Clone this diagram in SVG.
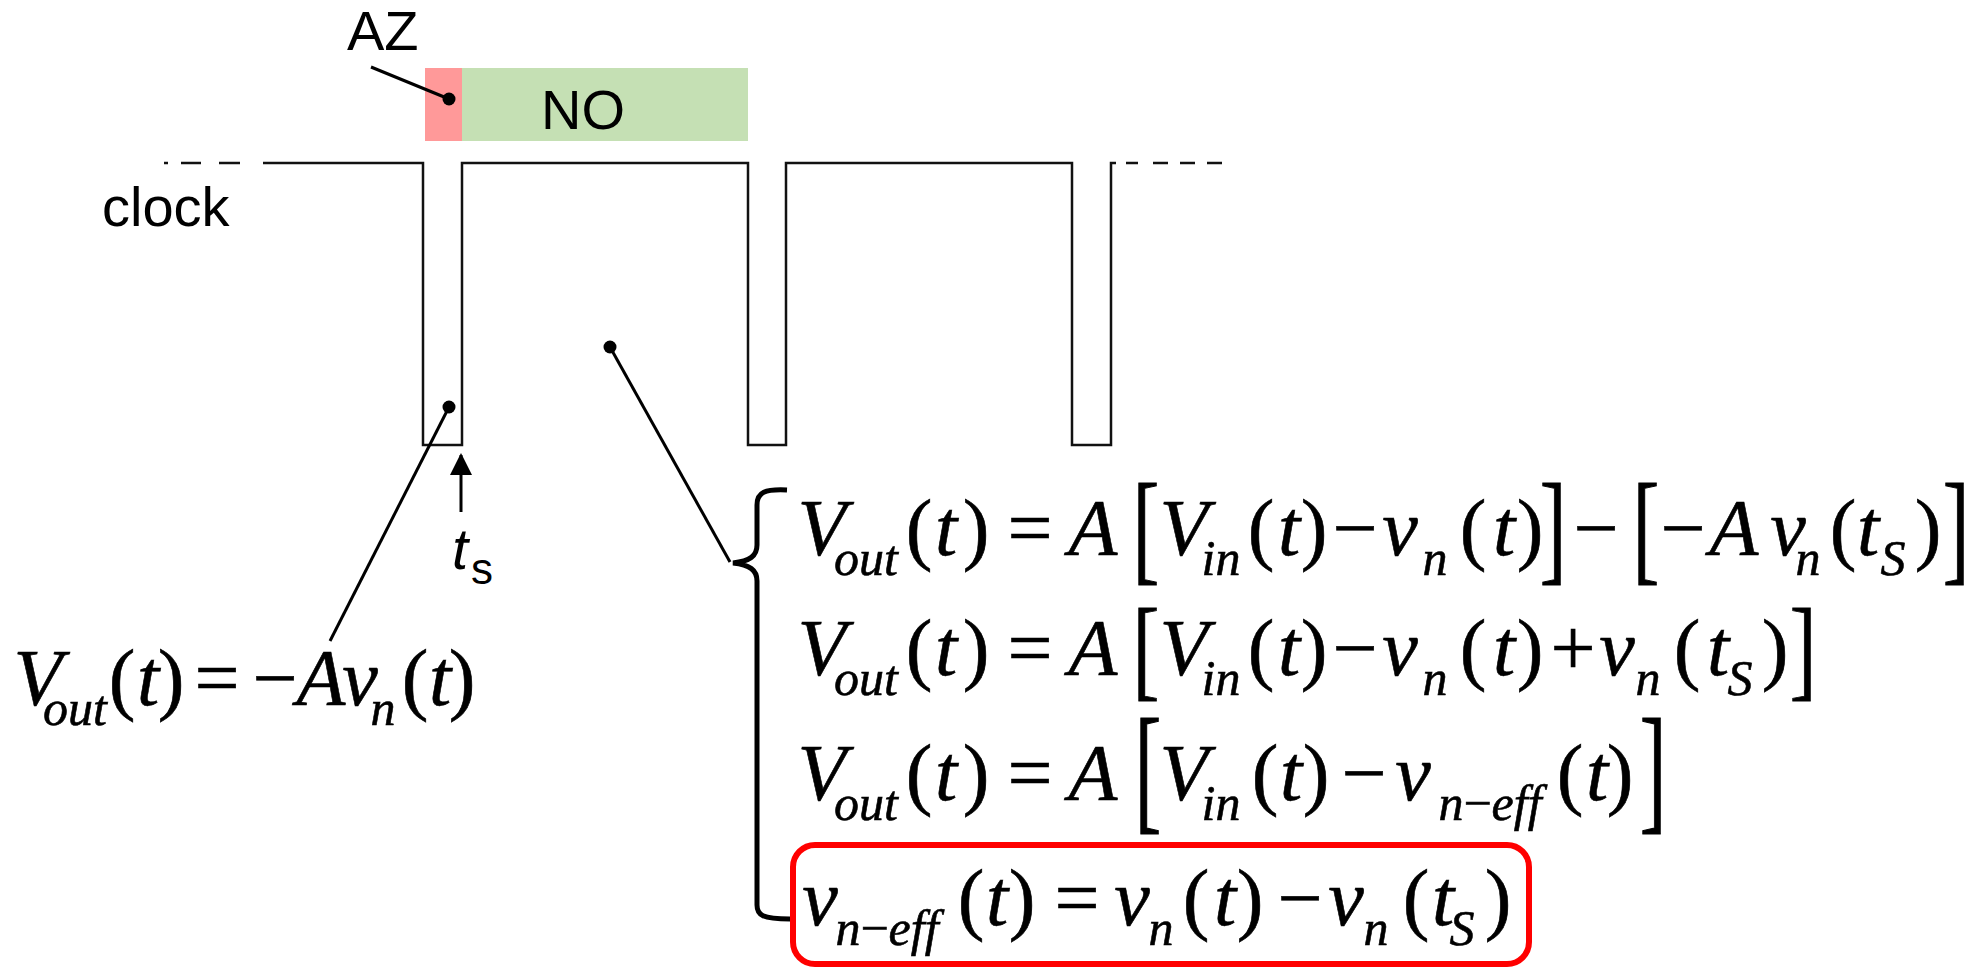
<svg xmlns="http://www.w3.org/2000/svg" width="1986" height="968" viewBox="0 0 1986 968">
<style>
.sans{font-family:"Liberation Sans",Arial,sans-serif;fill:#000}
.m{font-family:"Liberation Serif","Times New Roman",serif;font-size:80px;font-style:italic;text-anchor:middle;fill:#000;font-variant-ligatures:none;stroke:#000;stroke-width:0.6}
.u{font-style:normal}
.s{font-size:50px}
.wave{fill:none;stroke:#111;stroke-width:2.5}
.lead{fill:none;stroke:#000;stroke-width:3}
.dot{fill:#000}
</style>
<defs>
<marker id="ah" viewBox="0 0 22 22" refX="20" refY="11" markerWidth="22" markerHeight="22" markerUnits="userSpaceOnUse" orient="auto">
<path d="M0,0 L22,11 L0,22 Z" fill="#000"/>
</marker>
</defs>
<rect width="1986" height="968" fill="#fff"/>

<g id="phase-bar">
<rect x="425" y="68" width="37" height="73" fill="#FF9999"/>
<rect x="462" y="68" width="286" height="73" fill="#C5E0B4"/>
<text class="sans" x="583" y="129" font-size="56" text-anchor="middle">NO</text>
</g>

<g id="az-label">
<text class="sans" x="347" y="50" font-size="56">AZ</text>
</g>

<g id="clock">
<path class="wave" d="M263,163 H423 V445 H462 V163 H748 V445 H786 V163 H1072 V445 H1111 V163 H1116"/>
<path class="wave" d="M164,163 H168 M181,163 H201 M219,163 H240 M1126,163 H1138 M1153,163 H1168 M1180,163 H1195 M1207,163 H1222"/>
</g>

<g id="clock-label">
<text class="sans" x="102" y="226" font-size="56">clock</text>
</g>

<g id="ts-label">
<text class="sans" x="452" y="569" font-size="58" font-style="italic">t<tspan font-size="44" font-style="normal" x="471" y="584">s</tspan></text>
</g>

<g id="eq-left">
<text class="m" y="705" x="38 148 321 360 440">VtAvt</text>
<text class="m u" y="705" x="122 171 217 275 415 462">()=−()</text>
<text class="m s" y="725" x="75">out</text>
<text class="m s" y="725" x="383">n</text>
</g>

<g id="eq-system">
<path d="M787,490 C765,489 757,492 757,505 L757,545 C757,556 750,561 733,563 C750,565 757,570 757,581 L757,905 C757,915 762,919 790,919" fill="none" stroke="#000" stroke-width="5"/>

<g id="eq1">
<text class="m" y="555" x="822 946 1093 1184 1289 1400 1504 1734 1788 1868">VtAVtvtAvt</text>
<text class="m u" y="555" x="919 976 1030 1261 1314 1355 1473 1530 1596 1683 1843 1928">()=()−()−−()</text>
<text class="m s" y="575" x="866">out</text>
<text class="m s" y="575" x="1221">in</text>
<text class="m s" y="575" x="1435">n</text>
<text class="m s" y="575" x="1808">n</text>
<text class="m s" y="575" x="1893">S</text>
<text class="m u" transform="translate(1146,569) scale(1,1.53)">[</text>
<text class="m u" transform="translate(1553,569) scale(1,1.53)">]</text>
<text class="m u" transform="translate(1646,569) scale(1,1.53)">[</text>
<text class="m u" transform="translate(1956,569) scale(1,1.53)">]</text>
</g>

<g id="eq2">
<text class="m" y="675" x="822 946 1093 1184 1289 1400 1504 1617 1718">VtAVtvtvt</text>
<text class="m u" y="675" x="919 976 1030 1261 1314 1355 1473 1530 1573 1687 1775">()=()−()+()</text>
<text class="m s" y="695" x="866">out</text>
<text class="m s" y="695" x="1221">in</text>
<text class="m s" y="695" x="1435">n</text>
<text class="m s" y="695" x="1648">n</text>
<text class="m s" y="695" x="1740">S</text>
<text class="m u" transform="translate(1146,686) scale(1,1.39)">[</text>
<text class="m u" transform="translate(1803,686) scale(1,1.39)">]</text>
</g>

<g id="eq3">
<text class="m" y="800" x="822 946 1093 1184 1291 1413 1597">VtAVtvt</text>
<text class="m u" y="800" x="919 976 1030 1265 1316 1364 1570 1620">()=()−()</text>
<text class="m s" y="820" x="866">out</text>
<text class="m s" y="820" x="1221">in</text>
<text class="m s" y="820" x="1490">n<tspan class="u">−</tspan>eff</text>
<text class="m u" transform="translate(1148,815) scale(1,1.74)">[</text>
<text class="m u" transform="translate(1653,815) scale(1,1.74)">]</text>
</g>

<g id="eq4">
<rect x="793" y="845" width="736" height="119" rx="22" fill="none" stroke="#FF0000" stroke-width="6"/>
<text class="m" y="925" x="820 997 1132 1225 1346 1443">vtvtvt</text>
<text class="m u" y="925" x="971 1022 1077 1196 1250 1300 1416 1498">()=()−()</text>
<text class="m s" y="945" x="887">n<tspan class="u">−</tspan>eff</text>
<text class="m s" y="945" x="1161">n</text>
<text class="m s" y="945" x="1376">n</text>
<text class="m s" y="945" x="1462">S</text>
</g>
</g>

<g id="connectors">
<line class="lead" x1="371" y1="67" x2="449" y2="99"/>
<circle class="dot" cx="449" cy="99" r="6.5"/>
<line class="lead" x1="449" y1="407" x2="330" y2="641"/>
<circle class="dot" cx="449" cy="407" r="6.5"/>
<line class="lead" x1="610" y1="347" x2="730" y2="562"/>
<circle class="dot" cx="610" cy="347" r="6.5"/>
<line class="lead" x1="461" y1="512" x2="461" y2="455" marker-end="url(#ah)"/>
</g>
</svg>
